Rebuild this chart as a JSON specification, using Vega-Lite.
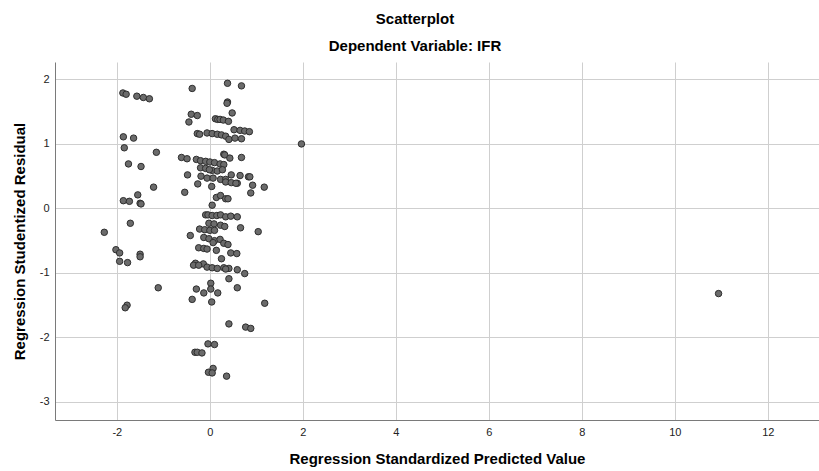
{
  "$schema": "https://vega.github.io/schema/vega-lite/v6.json",
  "autosize": {"type": "none"},
  "width": 764,
  "height": 358,
  "padding": {"left": 55, "top": 62, "right": 0, "bottom": 51},
  "background": "white",
  "title": {
    "text": "Scatterplot",
    "subtitle": "Dependent Variable: IFR",
    "anchor": "middle",
    "dx": -22,
    "font": "Liberation Sans",
    "fontSize": 15,
    "fontWeight": "bold",
    "color": "#000000",
    "subtitleFont": "Liberation Sans",
    "subtitleFontSize": 15,
    "subtitleFontWeight": "bold",
    "subtitleColor": "#000000",
    "subtitlePadding": 12,
    "offset": 8
  },
  "config": {
    "view": {"stroke": null},
    "axis": {
      "labelFont": "Liberation Sans",
      "labelFontSize": 11,
      "labelColor": "#222222",
      "titleFont": "Liberation Sans",
      "titleFontSize": 15,
      "titleFontWeight": "bold",
      "titleColor": "#000000",
      "gridColor": "#cfcfcf",
      "gridWidth": 1,
      "domainColor": "#7a7a7a",
      "domainWidth": 1,
      "ticks": false,
      "tickSize": 0,
      "labelExpr": "datum.value + ''"
    }
  },
  "data": {
    "values": [
      {"x": -1.87, "y": 1.79}, {"x": -1.80, "y": 1.77}, {"x": -1.57, "y": 1.74}, {"x": -1.43, "y": 1.72}, {"x": -1.30, "y": 1.70},
      {"x": -1.86, "y": 1.11}, {"x": -1.64, "y": 1.09}, {"x": -1.84, "y": 0.94}, {"x": -1.15, "y": 0.87},
      {"x": -1.75, "y": 0.69}, {"x": -1.48, "y": 0.65}, {"x": -1.21, "y": 0.33}, {"x": -1.55, "y": 0.21},
      {"x": -1.86, "y": 0.12}, {"x": -1.73, "y": 0.11}, {"x": -1.50, "y": 0.08}, {"x": -1.48, "y": 0.07},
      {"x": -1.71, "y": -0.23}, {"x": -2.27, "y": -0.37}, {"x": -2.02, "y": -0.64}, {"x": -1.94, "y": -0.69},
      {"x": -1.50, "y": -0.71}, {"x": -1.50, "y": -0.75}, {"x": -1.94, "y": -0.82}, {"x": -1.77, "y": -0.84},
      {"x": -1.11, "y": -1.23}, {"x": -1.78, "y": -1.50}, {"x": -1.82, "y": -1.54},
      {"x": -0.38, "y": 1.86}, {"x": 0.38, "y": 1.94}, {"x": 0.68, "y": 1.90},
      {"x": 0.38, "y": 1.65}, {"x": 0.37, "y": 1.63}, {"x": 0.48, "y": 1.48},
      {"x": -0.40, "y": 1.46}, {"x": -0.27, "y": 1.44}, {"x": -0.45, "y": 1.34},
      {"x": 0.12, "y": 1.39}, {"x": 0.17, "y": 1.38}, {"x": 0.22, "y": 1.38}, {"x": 0.29, "y": 1.37}, {"x": 0.40, "y": 1.35},
      {"x": -0.27, "y": 1.16}, {"x": -0.22, "y": 1.15},
      {"x": -0.06, "y": 1.17}, {"x": 0.05, "y": 1.16}, {"x": 0.16, "y": 1.15}, {"x": 0.25, "y": 1.14}, {"x": 0.34, "y": 1.12},
      {"x": 0.41, "y": 1.07}, {"x": 0.52, "y": 1.22}, {"x": 0.65, "y": 1.21}, {"x": 0.75, "y": 1.20}, {"x": 0.85, "y": 1.19},
      {"x": 0.54, "y": 1.09}, {"x": 0.68, "y": 1.08},
      {"x": -0.61, "y": 0.79}, {"x": -0.49, "y": 0.77},
      {"x": -0.29, "y": 0.76}, {"x": -0.20, "y": 0.74}, {"x": -0.09, "y": 0.73}, {"x": 0.00, "y": 0.72}, {"x": 0.10, "y": 0.71}, {"x": 0.22, "y": 0.69}, {"x": 0.30, "y": 0.68},
      {"x": 0.30, "y": 0.84}, {"x": 0.32, "y": 0.83}, {"x": 0.43, "y": 0.78}, {"x": 0.68, "y": 0.79},
      {"x": -0.20, "y": 0.63}, {"x": -0.09, "y": 0.62}, {"x": 0.05, "y": 0.59}, {"x": 0.16, "y": 0.58}, {"x": 0.27, "y": 0.60}, {"x": -0.01, "y": 0.60},
      {"x": -0.48, "y": 0.52},
      {"x": -0.19, "y": 0.50}, {"x": -0.06, "y": 0.47}, {"x": 0.07, "y": 0.47}, {"x": 0.23, "y": 0.45}, {"x": 0.34, "y": 0.45}, {"x": 0.46, "y": 0.52}, {"x": 0.65, "y": 0.51}, {"x": 0.83, "y": 0.49}, {"x": 0.86, "y": 0.49},
      {"x": -0.26, "y": 0.38}, {"x": 0.04, "y": 0.34},
      {"x": 0.34, "y": 0.41}, {"x": 0.46, "y": 0.40}, {"x": 0.59, "y": 0.39}, {"x": 0.56, "y": 0.39},
      {"x": 0.92, "y": 0.36}, {"x": 1.17, "y": 0.33}, {"x": 0.88, "y": 0.24}, {"x": -0.54, "y": 0.25},
      {"x": 0.14, "y": 0.17}, {"x": 0.23, "y": 0.20}, {"x": 0.34, "y": 0.15}, {"x": 0.39, "y": 0.15},
      {"x": 0.05, "y": 0.05},
      {"x": -0.09, "y": -0.10}, {"x": -0.04, "y": -0.10}, {"x": 0.05, "y": -0.11}, {"x": 0.15, "y": -0.11}, {"x": 0.23, "y": -0.10}, {"x": 0.34, "y": -0.13}, {"x": 0.45, "y": -0.12}, {"x": 0.59, "y": -0.13},
      {"x": -0.02, "y": -0.23}, {"x": 0.09, "y": -0.24}, {"x": 0.23, "y": -0.26}, {"x": 0.32, "y": -0.28},
      {"x": -0.22, "y": -0.32}, {"x": -0.11, "y": -0.33}, {"x": 0.00, "y": -0.34}, {"x": 0.10, "y": -0.34},
      {"x": 0.66, "y": -0.30}, {"x": 1.04, "y": -0.36}, {"x": -0.42, "y": -0.42},
      {"x": -0.13, "y": -0.45}, {"x": -0.02, "y": -0.47},
      {"x": 0.10, "y": -0.50}, {"x": 0.22, "y": -0.48}, {"x": 0.30, "y": -0.54}, {"x": 0.39, "y": -0.56}, {"x": 0.07, "y": -0.53},
      {"x": -0.24, "y": -0.61}, {"x": -0.13, "y": -0.62}, {"x": -0.06, "y": -0.63}, {"x": 0.14, "y": -0.65},
      {"x": 0.25, "y": -0.78}, {"x": 0.45, "y": -0.69}, {"x": 0.58, "y": -0.70},
      {"x": -0.31, "y": -0.85}, {"x": -0.14, "y": -0.86}, {"x": -0.35, "y": -0.88}, {"x": -0.24, "y": -0.88},
      {"x": -0.06, "y": -0.91}, {"x": 0.05, "y": -0.92}, {"x": 0.16, "y": -0.93}, {"x": 0.30, "y": -0.92}, {"x": 0.41, "y": -0.93}, {"x": 0.34, "y": -0.94}, {"x": 0.59, "y": -0.95}, {"x": 0.75, "y": -1.01},
      {"x": 0.41, "y": -1.09}, {"x": 0.02, "y": -1.16}, {"x": 0.02, "y": -1.25},
      {"x": -0.29, "y": -1.25}, {"x": -0.13, "y": -1.31}, {"x": 0.17, "y": -1.31}, {"x": 0.59, "y": -1.23},
      {"x": -0.38, "y": -1.41}, {"x": 0.04, "y": -1.45}, {"x": 1.18, "y": -1.47},
      {"x": 0.41, "y": -1.79}, {"x": 0.77, "y": -1.84}, {"x": 0.88, "y": -1.86},
      {"x": -0.04, "y": -2.10}, {"x": 0.10, "y": -2.11},
      {"x": -0.32, "y": -2.23}, {"x": -0.27, "y": -2.23}, {"x": -0.17, "y": -2.24},
      {"x": 0.07, "y": -2.48}, {"x": -0.03, "y": -2.54}, {"x": 0.05, "y": -2.55}, {"x": 0.36, "y": -2.60},
      {"x": 1.97, "y": 1.00}, {"x": 10.94, "y": -1.32}
    ]
  },
  "mark": {"type": "point", "filled": true, "fill": "#6b6b6b", "stroke": "#2e2e2e", "strokeWidth": 1, "size": 42, "opacity": 1},
  "encoding": {
    "x": {
      "field": "x", "type": "quantitative",
      "scale": {"domain": [-3.33, 13.1], "nice": false, "zero": false},
      "axis": {"values": [-2, 0, 2, 4, 6, 8, 10, 12], "title": "Regression Standardized Predicted Value", "labelPadding": 6, "titlePadding": 14, "labelFlush": false}
    },
    "y": {
      "field": "y", "type": "quantitative",
      "scale": {"domain": [-3.28, 2.27], "nice": false, "zero": false},
      "axis": {"values": [-3, -2, -1, 0, 1, 2], "title": "Regression Studentized Residual", "labelPadding": 6, "titlePadding": 12, "labelFlush": false}
    }
  }
}
